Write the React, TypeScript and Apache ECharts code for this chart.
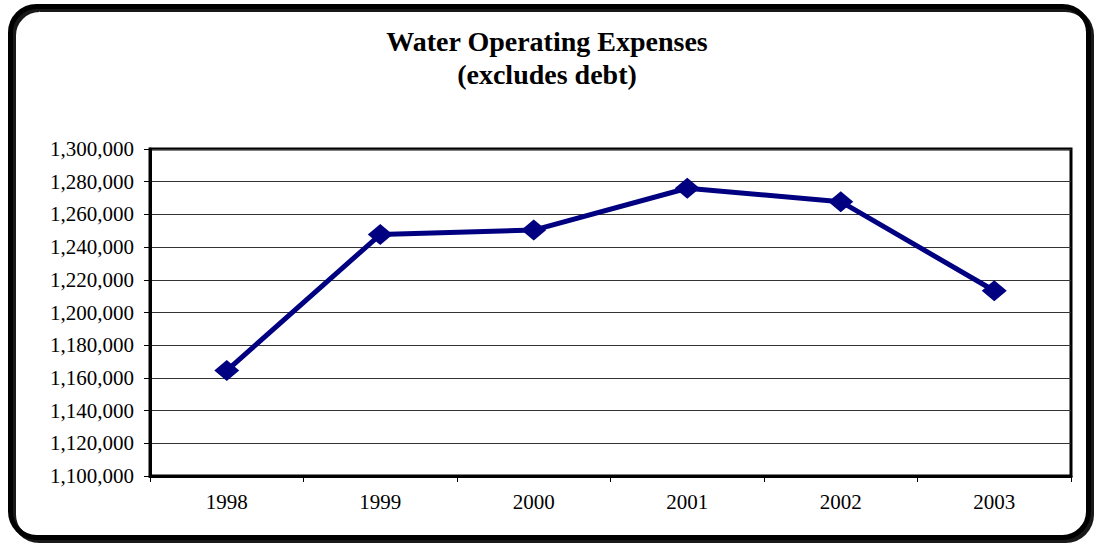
import React, { useEffect, useRef } from "react";
import * as echarts from "echarts";

const categories = ["1998", "1999", "2000", "2001", "2002", "2003"];
const expenses = [1164500, 1247700, 1250400, 1276000, 1267800, 1213300];
const yMin = 1100000;
const yMax = 1300000;
const yStep = 20000;
const titleLines = ["Water Operating Expenses", "(excludes debt)"];

export default function App() {
  const ref = useRef<HTMLDivElement>(null);
  useEffect(() => {
    if (!ref.current) return;
    const chart = echarts.init(ref.current, null, { renderer: "svg" });
    const serif = "'Liberation Serif', 'Times New Roman', serif";
    chart.setOption({
      animation: false,
      backgroundColor: "#ffffff",
      title: {
        text: titleLines.join("\n"),
        left: "center",
        top: 20,
        textStyle: {
          fontFamily: serif,
          fontWeight: "bold",
          fontSize: 28,
          lineHeight: 33,
          color: "#000",
        },
      },
      graphic: [
        {
          type: "rect",
          shape: { x: 10.5, y: 6.5, width: 1078, height: 531, r: 26 },
          style: {
            fill: "none",
            stroke: "#000",
            lineWidth: 5,
            shadowColor: "rgba(0,0,0,0.9)",
            shadowOffsetX: 3,
            shadowOffsetY: 3,
            shadowBlur: 0,
          },
          z: 100,
          silent: true,
        },
      ],
      grid: {
        left: 150,
        right: 23,
        top: 149,
        bottom: 70,
        show: true,
        borderColor: "#000",
        borderWidth: 3,
        backgroundColor: "#fff",
      },
      xAxis: {
        type: "category",
        data: categories,
        boundaryGap: true,
        axisLine: { show: true, lineStyle: { color: "#000", width: 3 } },
        axisTick: { show: true, length: 6, lineStyle: { color: "#000", width: 1 } },
        axisLabel: {
          fontFamily: serif,
          fontSize: 21,
          color: "#000",
          margin: 15,
        },
        splitLine: { show: false },
      },
      yAxis: {
        type: "value",
        min: yMin,
        max: yMax,
        interval: yStep,
        axisLine: { show: true, lineStyle: { color: "#000", width: 3 } },
        axisTick: { show: true, length: 6, lineStyle: { color: "#000", width: 1 } },
        axisLabel: {
          fontFamily: serif,
          fontSize: 21,
          color: "#000",
          margin: 16,
          formatter: (v: number) => v.toLocaleString("en-US"),
        },
        splitLine: { show: true, lineStyle: { color: "#333", width: 1 } },
      },
      series: [
        {
          type: "line",
          data: expenses,
          symbol: "diamond",
          symbolSize: [25, 21],
          lineStyle: { color: "#000080", width: 5 },
          itemStyle: { color: "#000080" },
          z: 5,
        },
      ],
    });
    return () => chart.dispose();
  }, []);
  return (
    <div
      ref={ref}
      style={{ position: "fixed", left: 0, top: 0, width: 1094, height: 546 }}
    />
  );
}
